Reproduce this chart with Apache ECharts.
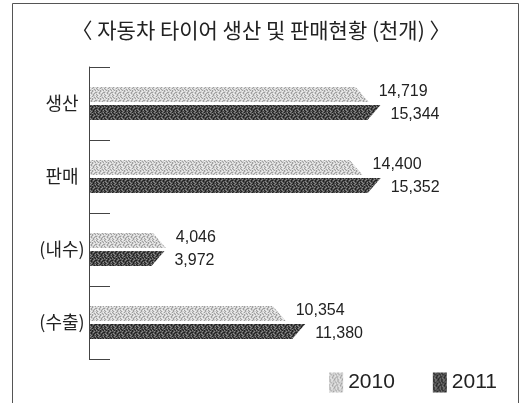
<!DOCTYPE html>
<html>
<head>
<meta charset="utf-8">
<script src="https://cdn.jsdelivr.net/npm/echarts@6/dist/echarts.min.js"></script>
<style>
html,body{margin:0;padding:0;background:#fff;}
#c{width:522px;height:403px;}
</style>
</head>
<body>
<div id="c"></div>
<script>
var titleText = '〈 자동차 타이어 생산 및 판매현황 (천개) 〉';
var categories = ['생산', '판매', '(내수)', '(수출)'];
var seriesNames = ['2010', '2011'];
var values2010 = [14719, 14400, 4046, 10354];
var values2011 = [15344, 15352, 3972, 11380];

var dotMap = [
  'x.o.x..o',
  '.x..o.x.',
  'o.x.x..x',
  '..o.x.o.',
  'x..x.o.x',
  '.o.x..x.',
  'x.o..x.o',
  '.x.o.x..'
];
function makePattern(bg, fg, fg2) {
  var n = dotMap.length;
  var c = document.createElement('canvas');
  c.width = n; c.height = n;
  var g = c.getContext('2d');
  g.fillStyle = bg; g.fillRect(0, 0, n, n);
  for (var r = 0; r < n; r++) {
    for (var k = 0; k < n; k++) {
      var ch = dotMap[r].charAt(k);
      if (ch === 'x') { g.fillStyle = fg; g.fillRect(k, r, 1, 1); }
      else if (ch === 'o') { g.fillStyle = fg2; g.fillRect(k, r, 1, 1); }
    }
  }
  return { image: c, repeat: 'repeat' };
}
var lightFill = makePattern('#d4d4d4', '#a0a0a0', '#efefef');
var darkFill = makePattern('#505050', '#222222', '#8a8a8a');

function fmt(v) { return v.toString().replace(/\B(?=(\d{3})+(?!\d))/g, ','); }

function makeRender(which, fill) {
  return function (params, api) {
    var cat = api.value(0), val = api.value(1);
    var start = api.coord([0, cat]);
    var end = api.coord([val, cat]);
    var h = 15, gap = 3, s = 13;
    var cy = start[1];
    var y0 = which === 0 ? cy - gap / 2 - h : cy + gap / 2;
    var y1 = y0 + h;
    var x0 = start[0] + 1, x1 = end[0];
    var pts = which === 0
      ? [[x0, y0], [x1 - s, y0], [x1, y1], [x0, y1]]
      : [[x0, y0], [x1, y0], [x1 - s, y1], [x0, y1]];
    return {
      type: 'group',
      children: [
        { type: 'polygon', shape: { points: pts }, style: { fill: fill, stroke: null } },
        { type: 'text', style: {
            text: fmt(val), x: x1 + 10,
            y: which === 0 ? (y0 + h / 2 - 3) : (y0 + h / 2 + 2),
            verticalAlign: 'middle', align: 'left',
            fontSize: 16, fontFamily: 'Liberation Sans, Arial, sans-serif', fill: '#222'
        } }
      ]
    };
  };
}

var chart = echarts.init(document.getElementById('c'));
chart.setOption({
  animation: false,
  backgroundColor: '#fff',
  title: {
    text: titleText, left: 'center', top: 15,
    textStyle: { fontSize: 21, fontWeight: 'normal', color: '#222', fontFamily: 'Noto Sans CJK KR' }
  },
  graphic: [{
    type: 'rect', shape: { x: 12.5, y: 3.5, width: 506, height: 430 },
    style: { fill: 'none', stroke: '#555', lineWidth: 1 }, silent: true, z: -1
  }],
  legend: {
    data: seriesNames, right: 20, top: 367, icon: 'rect',
    itemWidth: 14, itemHeight: 20, itemGap: 38,
    textStyle: { fontSize: 21, color: '#222', fontFamily: 'Liberation Sans, Arial, sans-serif' }
  },
  grid: { left: 89, top: 67, width: 304, height: 292, containLabel: false },
  xAxis: { type: 'value', min: 0, max: 16000, show: false, splitLine: { show: false } },
  yAxis: {
    type: 'category', data: categories, inverse: true,
    axisLine: { show: true, lineStyle: { color: '#444', width: 1 } },
    axisTick: { show: true, inside: true, length: 21, lineStyle: { color: '#444', width: 1 } },
    axisLabel: { align: 'center', margin: 27, fontSize: 18, color: '#222', fontFamily: 'Noto Sans CJK KR' },
    splitLine: { show: false }
  },
  series: [
    { name: seriesNames[0], type: 'custom', renderItem: makeRender(0, lightFill),
      itemStyle: { color: lightFill }, encode: { x: 1, y: 0 },
      data: values2010.map(function (v, i) { return [i, v]; }) },
    { name: seriesNames[1], type: 'custom', renderItem: makeRender(1, darkFill),
      itemStyle: { color: darkFill }, encode: { x: 1, y: 0 },
      data: values2011.map(function (v, i) { return [i, v]; }) }
  ]
});
</script>
</body>
</html>
